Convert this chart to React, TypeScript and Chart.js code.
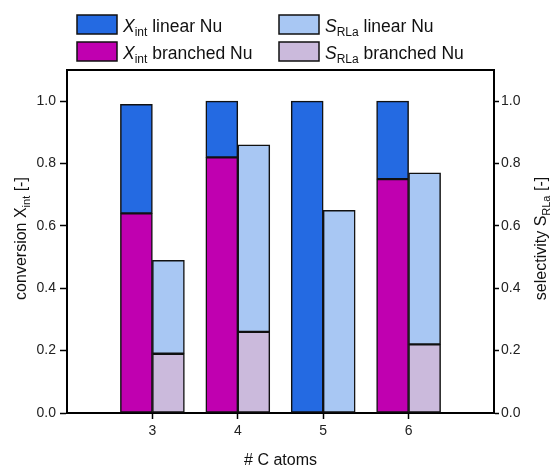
import React, { useEffect, useRef } from "react";
import { Chart, registerables } from "chart.js";

Chart.register(...registerables);

const carbonAtoms = [3, 4, 5, 6];
const xTotal = [0.99, 1.0, 1.0, 1.0];
const xBranched = [0.64, 0.82, null, 0.75];
const sTotal = [0.49, 0.86, 0.65, 0.77];
const sBranched = [0.19, 0.26, null, 0.22];
const yTicks = [0, 0.2, 0.4, 0.6, 0.8, 1.0];

const C_XLIN = "#246AE2";
const C_XBR = "#C000B0";
const C_SLIN = "#A8C7F3";
const C_SBR = "#CBBADC";
const FONT = "'Liberation Sans', Arial, sans-serif";

type Seg = { t: string; sub?: boolean; it?: boolean };

function drawRich(ctx: CanvasRenderingContext2D, segs: Seg[], x: number, y: number, size: number, align: "left" | "center") {
  const subSize = Math.round(size * 0.68);
  const fontFor = (s: Seg) => `${s.it ? "italic " : ""}${s.sub ? subSize : size}px ${FONT}`;
  let total = 0;
  for (const s of segs) {
    ctx.font = fontFor(s);
    total += ctx.measureText(s.t).width;
  }
  let cx = align === "center" ? x - total / 2 : x;
  ctx.textAlign = "left";
  ctx.textBaseline = "alphabetic";
  for (const s of segs) {
    ctx.font = fontFor(s);
    ctx.fillText(s.t, cx, s.sub ? y + size * 0.22 : y);
    cx += ctx.measureText(s.t).width;
  }
}

const decorPlugin = {
  id: "decor",
  afterDraw(chart: any) {
    const ctx: CanvasRenderingContext2D = chart.ctx;
    const a = chart.chartArea;
    ctx.save();
    ctx.strokeStyle = "#000";
    ctx.lineWidth = 2;
    ctx.beginPath();
    ctx.moveTo(a.left - 1, a.top);
    ctx.lineTo(a.right + 1, a.top);
    ctx.stroke();

    ctx.fillStyle = "#111";
    const items = [
      { x: 77, y: 15, c: C_XLIN, segs: [{ t: "X", it: true }, { t: "int", sub: true }, { t: " linear Nu" }] },
      { x: 77, y: 42, c: C_XBR, segs: [{ t: "X", it: true }, { t: "int", sub: true }, { t: " branched Nu" }] },
      { x: 279, y: 15, c: C_SLIN, segs: [{ t: "S", it: true }, { t: "RLa", sub: true }, { t: " linear Nu" }] },
      { x: 279, y: 42, c: C_SBR, segs: [{ t: "S", it: true }, { t: "RLa", sub: true }, { t: " branched Nu" }] },
    ];
    for (const it of items) {
      ctx.fillStyle = it.c;
      ctx.fillRect(it.x, it.y, 40, 19);
      ctx.strokeStyle = "#111";
      ctx.lineWidth = 1.5;
      ctx.strokeRect(it.x, it.y, 40, 19);
      ctx.fillStyle = "#111";
      drawRich(ctx, it.segs as Seg[], it.x + 46, it.y + 17, 17.5, "left");
    }

    drawRich(ctx, [{ t: "# C atoms" }], (a.left + a.right) / 2, 465, 16, "center");

    ctx.save();
    ctx.translate(26, (a.top + a.bottom) / 2 - 3);
    ctx.rotate(-Math.PI / 2);
    drawRich(ctx, [{ t: "conversion X" }, { t: "int", sub: true }, { t: " [-]" }], 0, 0, 16, "center");
    ctx.restore();

    ctx.save();
    ctx.translate(546, (a.top + a.bottom) / 2 - 3);
    ctx.rotate(-Math.PI / 2);
    drawRich(ctx, [{ t: "selectivity S" }, { t: "RLa", sub: true }, { t: " [-]" }], 0, 0, 16, "center");
    ctx.restore();
    ctx.restore();
  },
};

export default function App() {
  const ref = useRef<HTMLCanvasElement>(null);
  useEffect(() => {
    if (!ref.current) return;
    const pts = (vals: (number | null)[]) => carbonAtoms.map((c, i) => ({ x: c, y: vals[i] }));
    const diff = (tot: number[], br: (number | null)[]) => tot.map((t, i) => t - (br[i] ?? 0));
    const common = { borderColor: "#111", borderWidth: 1.5, barThickness: 32, borderSkipped: false };
    const chart = new Chart(ref.current, {
      type: "bar",
      data: {
        datasets: [
          { ...common, label: "X branched", stack: "X", data: pts(xBranched), backgroundColor: C_XBR },
          { ...common, label: "X linear", stack: "X", data: pts(diff(xTotal, xBranched)), backgroundColor: C_XLIN },
          { ...common, label: "S branched", stack: "S", data: pts(sBranched), backgroundColor: C_SBR },
          { ...common, label: "S linear", stack: "S", data: pts(diff(sTotal, sBranched)), backgroundColor: C_SLIN },
        ] as any,
      },
      options: {
        animation: false,
        responsive: false,
        maintainAspectRatio: false,
        layout: { padding: { top: 70, left: 0, right: 0, bottom: 0 } },
        plugins: { legend: { display: false }, tooltip: { enabled: false } },
        scales: {
          x: {
            type: "linear",
            min: 2,
            max: 7,
            offset: false,
            stacked: true,
            afterBuildTicks: (s: any) => { s.ticks = carbonAtoms.map((v) => ({ value: v })); },
            afterFit: (s: any) => { s.height = 54; },
            grid: { offset: false, drawOnChartArea: false, drawTicks: true, tickLength: 6, tickColor: "#000", tickWidth: 1.5 },
            border: { display: true, color: "#000", width: 2 },
            ticks: { color: "#222", font: { size: 14, family: FONT }, padding: 4, callback: (v: any) => String(v) },
          },
          y: {
            type: "linear",
            position: "left",
            min: 0,
            max: 1.1,
            stacked: true,
            afterBuildTicks: (s: any) => { s.ticks = yTicks.map((v) => ({ value: v })); },
            afterFit: (s: any) => { s.width = 67; },
            grid: { drawOnChartArea: false, drawTicks: true, tickLength: 7, tickColor: "#000", tickWidth: 1.5 },
            border: { display: true, color: "#000", width: 2 },
            ticks: { color: "#222", font: { size: 14, family: FONT }, padding: 4, callback: (v: any) => Number(v).toFixed(1) },
          },
          y2: {
            type: "linear",
            position: "right",
            min: 0,
            max: 1.1,
            afterBuildTicks: (s: any) => { s.ticks = yTicks.map((v) => ({ value: v })); },
            afterFit: (s: any) => { s.width = 60; },
            grid: { drawOnChartArea: false, drawTicks: true, tickLength: 5, tickColor: "#000", tickWidth: 1.5 },
            border: { display: true, color: "#000", width: 2 },
            ticks: { color: "#222", font: { size: 14, family: FONT }, padding: 2, callback: (v: any) => Number(v).toFixed(1) },
          },
        },
      } as any,
      plugins: [decorPlugin],
    });
    return () => chart.destroy();
  }, []);
  return (
    <div style={{ position: "fixed", left: 0, top: 0, width: 554, height: 467, background: "#fff" }}>
      <canvas ref={ref} width={554} height={467} style={{ width: 554, height: 467, display: "block" }} />
    </div>
  );
}
